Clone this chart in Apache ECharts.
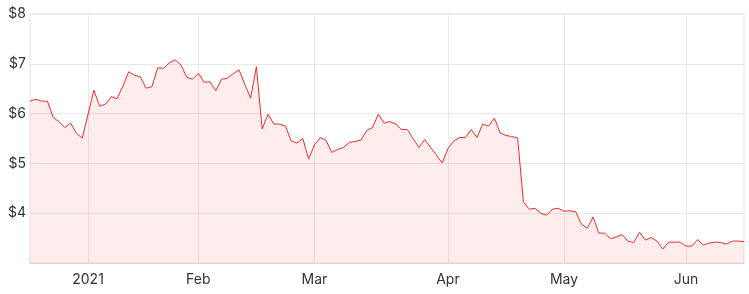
<!DOCTYPE html>
<html>
<head>
<meta charset="utf-8">
<script src="https://cdn.jsdelivr.net/npm/echarts@6/dist/echarts.min.js"></script>
<style>
html,body{margin:0;padding:0;background:#fff;}
#chart{width:749px;height:294px;}
</style>
</head>
<body>
<div id="chart"></div>
<script>
// Trading days (category axis)
const dec2020 = [16,17,18,21,22,23,24,29,30,31];
const jan2021 = [4,5,6,7,8,11,12,13,14,15,18,19,20,21,22,25,27,28,29];
const feb2021 = [1,2,3,4,5,8,9,10,11,12,15,16,17,18,19,22,23,24,25,26];
const mar2021 = [1,2,3,4,5,8,9,10,11,12,15,16,17,18,19,22,23,24,25,26,29,30,31];
const apr2021 = [1,6,7,8,9,12,13,14,15,16,19,20,21,22,23,26,27,28,29,30];
const may2021 = [3,4,5,6,7,10,11,12,13,14,17,18,19,20,21,24,25,26,27,28,31];
const jun2021 = [1,2,3,4,7,8,9,10,11,15,16];

// Closing prices ($)
const prices = [
6.25,6.29,6.25,6.25,5.92,5.84,5.72,5.81,5.60,5.51,
5.99,6.47,6.15,6.19,6.34,6.30,6.55,6.84,6.77,6.74,
6.51,6.54,6.92,6.91,7.02,7.08,6.98,6.73,6.69,6.81,
6.63,6.64,6.46,6.69,6.71,6.80,6.88,6.59,6.31,6.94,
5.69,5.99,5.79,5.79,5.75,5.45,5.41,5.50,5.09,5.37,
5.52,5.46,5.22,5.28,5.32,5.42,5.44,5.47,5.66,5.72,
5.99,5.81,5.84,5.79,5.68,5.68,5.50,5.32,5.48,5.32,
5.17,5.01,5.30,5.45,5.52,5.52,5.68,5.52,5.79,5.75,
5.91,5.61,5.56,5.54,5.51,4.23,4.08,4.10,4.00,3.96,
4.08,4.10,4.04,4.05,4.03,3.78,3.70,3.92,3.60,3.60,
3.49,3.52,3.57,3.44,3.41,3.62,3.46,3.51,3.44,3.28,
3.42,3.42,3.42,3.34,3.34,3.47,3.36,3.40,3.42,3.41,
3.38,3.44,3.44,3.43
];

// Month tick labels
const monthLabels = {1:'2021',2:'Feb',3:'Mar',4:'Apr',5:'May',6:'Jun'};
const yTicks = [3,4,5,6,7,8];

function pad(n){return (n<10?'0':'')+n;}
const dates = [];
[[2020,12,dec2020],[2021,1,jan2021],[2021,2,feb2021],[2021,3,mar2021],[2021,4,apr2021],[2021,5,may2021],[2021,6,jun2021]]
  .forEach(([y,m,days])=>days.forEach(d=>dates.push(y+'-'+pad(m)+'-'+pad(d))));

function isMonthStart(idx){
  if(idx===0) return false;
  return dates[idx].slice(0,7)!==dates[idx-1].slice(0,7);
}

const chart = echarts.init(document.getElementById('chart'));
chart.setOption({
  animation:false,
  grid:{left:30,right:5,top:14,bottom:31,show:true,borderColor:'#e4e4e4',borderWidth:1,backgroundColor:'transparent'},
  xAxis:{
    type:'category',
    data:dates,
    boundaryGap:false,
    axisLine:{show:true,lineStyle:{color:'#e0d6d6'}},
    axisTick:{show:false},
    axisLabel:{
      interval:(i)=>isMonthStart(i),
      formatter:(v)=>monthLabels[parseInt(v.slice(5,7),10)]||'',
      color:'#333',fontFamily:'Inter',fontSize:14,margin:10
    },
    splitLine:{show:true,interval:(i)=>isMonthStart(i),lineStyle:{color:'#e8e8e8',width:1}}
  },
  yAxis:{
    type:'value',min:yTicks[0],max:yTicks[yTicks.length-1],interval:1,
    axisLine:{show:false},axisTick:{show:false},
    axisLabel:{formatter:(v)=>v===yTicks[0]?'':'$'+v,color:'#333',fontFamily:'Inter',fontSize:14,margin:4},
    splitLine:{lineStyle:{color:'#e8e8e8',width:1}}
  },
  series:[{
    type:'line',data:prices,symbol:'none',
    lineStyle:{color:'#ee2b2b',width:1},
    areaStyle:{color:'rgba(248,50,50,0.13)'}
  }]
});
</script>
</body>
</html>
